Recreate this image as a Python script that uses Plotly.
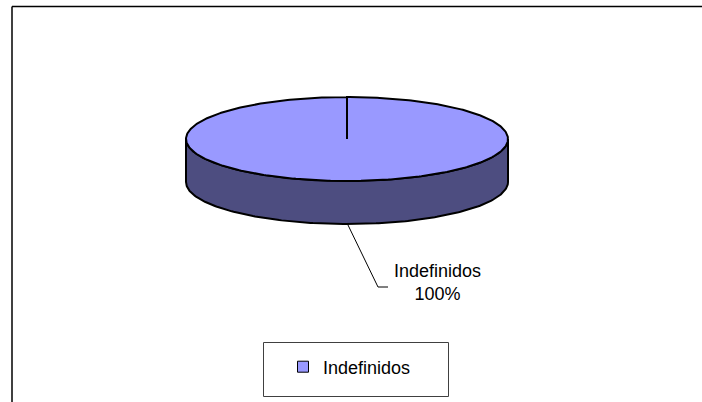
import numpy as np
import plotly.graph_objects as go

# ---- data ----
categories = ["Indefinidos"]
values = [100]
colors_top = ["#9999FF"]
colors_side = ["#4D4D80"]

# ---- geometry (pixel-space axes) ----
W, H = 702, 402
cx, cy = 347, 139      # centre of top ellipse
ra, rb = 161, 42       # semi axes
depth = 43             # 3-D thickness

def pt(theta_deg, dy=0.0):
    t = np.radians(theta_deg)
    return cx + ra * np.sin(t), cy - rb * np.cos(t) + dy

fig = go.Figure()

total = float(sum(values))
start = 0.0
slices = []
for cat, v in zip(categories, values):
    sweep = 360.0 * v / total
    slices.append((cat, v, start, start + sweep))
    start += sweep

# side walls (front half: 90..270 deg)
for i, (cat, v, a0, a1) in enumerate(slices):
    lo, hi = max(a0, 90), min(a1, 270)
    if hi > lo:
        th = np.linspace(lo, hi, 200)
        xs_t, ys_t = pt(th)
        xs_b, ys_b = pt(th[::-1], depth)
        xs = np.concatenate([xs_t, xs_b, xs_t[:1]])
        ys = np.concatenate([ys_t, ys_b, ys_t[:1]])
        fig.add_trace(go.Scatter(x=xs, y=ys, mode="lines", fill="toself",
                                 fillcolor=colors_side[i],
                                 line=dict(color="black", width=2),
                                 hoverinfo="skip", showlegend=False))

# top faces
for i, (cat, v, a0, a1) in enumerate(slices):
    th = np.linspace(a0, a1, 400)
    xs_a, ys_a = pt(th)
    xs = np.concatenate([[cx], xs_a, [cx]])
    ys = np.concatenate([[cy], ys_a, [cy]])
    fig.add_trace(go.Scatter(x=xs, y=ys, mode="lines", fill="toself",
                             fillcolor=colors_top[i],
                             line=dict(color="black", width=2),
                             hoverinfo="skip", showlegend=False))

# labels with leader lines
for i, (cat, v, a0, a1) in enumerate(slices):
    mid = (a0 + a1) / 2.0
    ax_, ay_ = pt(mid, depth)
    ay_ -= 1
    bx, by = ax_ + 31, ay_ + 64
    fig.add_trace(go.Scatter(x=[ax_, bx, bx + 10], y=[ay_, by, by], mode="lines",
                             line=dict(color="black", width=1),
                             hoverinfo="skip", showlegend=False))
    fig.add_annotation(x=bx + 59, y=by - 5, xref="x", yref="y",
                       text=f"{cat}<br>{round(100 * v / total)}%",
                       showarrow=False, align="center",
                       font=dict(family="Liberation Sans, Arial", size=18, color="black"))

# legend entries
for i, cat in enumerate(categories):
    fig.add_trace(go.Scatter(x=[None], y=[None], mode="markers", name=cat,
                             marker=dict(symbol="square", size=11, color=colors_top[i],
                                         line=dict(color="black", width=1))))

fig.update_layout(
    width=W, height=H,
    margin=dict(l=0, r=0, t=0, b=0),
    paper_bgcolor="white", plot_bgcolor="white",
    xaxis=dict(range=[0, W], visible=False, fixedrange=True),
    yaxis=dict(range=[H, 0], visible=False, fixedrange=True),
    showlegend=True,
    legend=dict(x=283 / W, y=1 - 367 / H, xanchor="left", yanchor="middle",
                bgcolor="rgba(0,0,0,0)", borderwidth=0,
                font=dict(family="Liberation Sans, Arial", size=18, color="black")),
    shapes=[
        dict(type="line", xref="x", yref="y", x0=12, y0=6.5, x1=W, y1=6.5,
             line=dict(color="black", width=1.5)),
        dict(type="line", xref="x", yref="y", x0=12, y0=6.5, x1=12, y1=H,
             line=dict(color="black", width=1.5)),
        dict(type="rect", xref="x", yref="y", x0=263.5, y0=342.5, x1=448.5, y1=396.5,
             line=dict(color="#404040", width=1)),
    ],
)

fig.write_html("out.html",
               config={"displayModeBar": False, "staticPlot": True},
               post_script="document.body.style.margin='0';document.body.style.overflow='hidden';")
